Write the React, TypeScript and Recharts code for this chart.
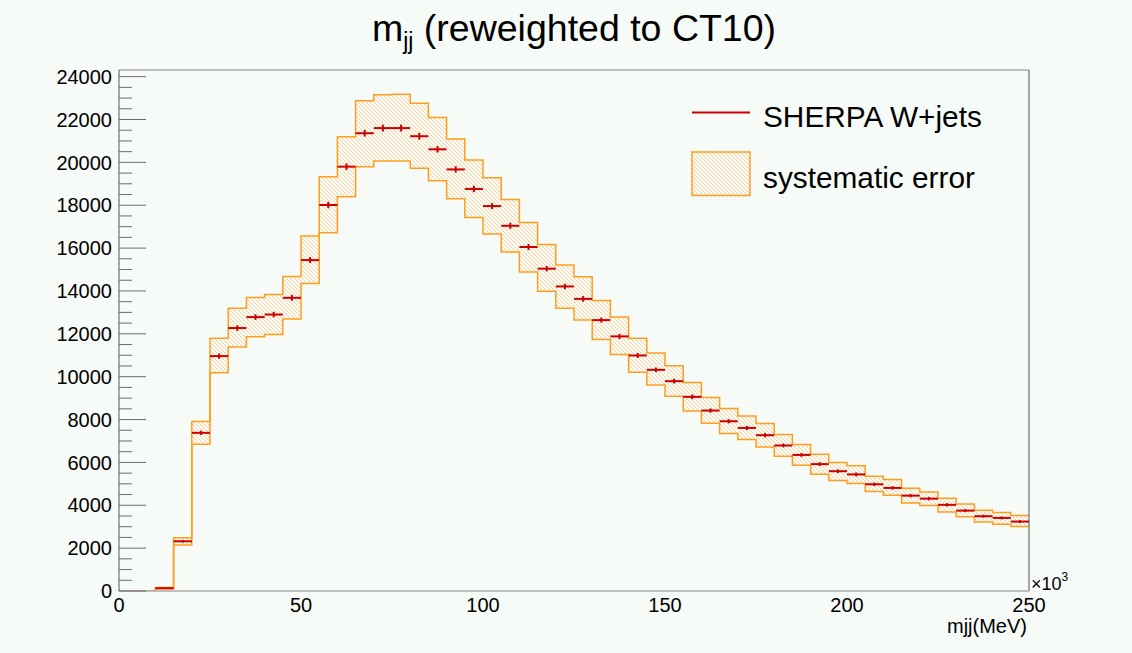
import { Area, ComposedChart, ErrorBar, ReferenceLine, Scatter, XAxis, YAxis } from "recharts";

const BG = "#f6fbf8";
const ORANGE = "#ff9d1e";
const RED = "#cc0000";
const FONT = '"Liberation Sans", Arial, Helvetica, sans-serif';

const W = 1132;
const H = 653;
const BIN_WIDTH = 5; // x10^3 MeV
const X_MAX = 250;
const Y_MAX = 24310;

// SHERPA W+jets event counts per 5 GeV bin of mjj
const counts = [
  0, 0, 130, 2320, 7380, 10960, 12270, 12780, 12900, 13680,
  15440, 18010, 19800, 21360, 21600, 21600, 21220, 20610, 19670, 18760,
  17960, 17040, 16050, 15040, 14210, 13630, 12640, 11880, 10990, 10320,
  9790, 9060, 8420, 7920, 7610, 7270, 6790, 6350, 5920, 5590,
  5440, 4980, 4810, 4450, 4310, 4020, 3750, 3490, 3410, 3240,
];

// systematic envelope (upper / lower edge)
const sysUp = [
  0, 0, 160, 2480, 7910, 11790, 13190, 13700, 13840, 14680,
  16560, 19330, 21200, 22880, 23160, 23180, 22760, 22090, 21090, 20110,
  19280, 18270, 17200, 16170, 15210, 14660, 13560, 12780, 11790, 11110,
  10510, 9730, 9030, 8520, 8170, 7820, 7300, 6840, 6380, 6000,
  5840, 5360, 5200, 4800, 4620, 4330, 4060, 3770, 3660, 3520,
];
const sysDown = [
  0, 0, 100, 2150, 6850, 10180, 11390, 11860, 11970, 12690,
  14350, 16720, 18400, 19800, 20060, 20060, 19720, 19140, 18300, 17430,
  16660, 15820, 14880, 13990, 13190, 12640, 11740, 11040, 10210, 9610,
  9090, 8400, 7830, 7350, 7070, 6720, 6290, 5870, 5450, 5160,
  5020, 4640, 4470, 4110, 3990, 3690, 3460, 3220, 3110, 3010,
];

// statistical error per bin
const statErr = [
  0, 0, 20, 60, 100, 120, 130, 130, 130, 140,
  140, 150, 150, 160, 160, 160, 160, 150, 150, 150,
  140, 140, 140, 130, 130, 130, 120, 120, 120, 110,
  110, 110, 100, 100, 100, 100, 90, 90, 90, 90,
  90, 80, 80, 80, 80, 80, 70, 70, 70, 70,
];

const xTicks = [0, 50, 100, 150, 200, 250];
const Y_MINOR_STEP = 500;
const Y_MAJOR_STEP = 2000;
const yTicks: number[] = [];
for (let v = 0; v <= 24000; v += Y_MINOR_STEP) yTicks.push(v);

const last = counts.length - 1;
const bandRows = [
  ...counts.map((_, i) => ({ x: i * BIN_WIDTH, band: [sysDown[i], sysUp[i]] })),
  { x: X_MAX, band: [sysDown[last], sysUp[last]] },
];
const pointRows = counts
  .map((v, i) => ({ x: i * BIN_WIDTH + BIN_WIDTH / 2, y: v, xErr: BIN_WIDTH / 2, yErr: statErr[i] }))
  .filter((r) => r.y > 0);

function YTick(props: any) {
  const { x, y, payload } = props;
  const major = payload.value % Y_MAJOR_STEP === 0;
  return (
    <g>
      <line x1={x} x2={x + (major ? 27 : 13)} y1={y} y2={y} stroke="#6b6b6b" strokeWidth={1} />
      {major && (
        <text x={x - 7} y={y} dy="0.36em" textAnchor="end" fontSize={20} fill="#000" fontFamily={FONT}>
          {payload.value}
        </text>
      )}
    </g>
  );
}

function Hatch() {
  return (
    <svg width={0} height={0} style={{ position: "absolute" }}>
      <defs>
        <pattern id="hatch" patternUnits="userSpaceOnUse" width={4} height={4}>
          <path d="M-1,-1 L5,5 M-1,3 L1,5 M3,-1 L5,1" stroke={ORANGE} strokeWidth={0.8} strokeOpacity={0.55} />
        </pattern>
      </defs>
    </svg>
  );
}

export default function App() {
  return (
    <div style={{ position: "absolute", left: 0, top: 0, width: W, height: H, background: BG, fontFamily: FONT }}>
      <Hatch />
      <ComposedChart width={W} height={H} data={bandRows} margin={{ top: 70, right: 103, bottom: 0, left: 0 }}>
        <XAxis
          dataKey="x"
          type="number"
          domain={[0, X_MAX]}
          ticks={xTicks}
          allowDataOverflow
          height={62}
          tickLine={false}
          tickSize={0}
          tickMargin={7}
          axisLine={{ stroke: "#a8a8a8", strokeWidth: 1.5 }}
          tick={{ fontSize: 20, fill: "#000", fontFamily: FONT }}
        />
        <YAxis
          type="number"
          domain={[0, Y_MAX]}
          ticks={yTicks}
          interval={0}
          allowDataOverflow
          width={119}
          tickLine={false}
          tickSize={0}
          tickMargin={0}
          axisLine={{ stroke: "#555" }}
          tick={<YTick />}
        />
        <Area
          type="stepAfter"
          dataKey="band"
          stroke={ORANGE}
          strokeWidth={1.5}
          fill="url(#hatch)"
          fillOpacity={1}
          dot={false}
          activeDot={false}
          isAnimationActive={false}
        />
        <Scatter data={pointRows} dataKey="y" shape={() => <g />} isAnimationActive={false}>
          <ErrorBar dataKey="xErr" direction="x" width={0} stroke={RED} strokeWidth={2} isAnimationActive={false} />
          <ErrorBar dataKey="yErr" direction="y" width={0} stroke={RED} strokeWidth={2} isAnimationActive={false} />
        </Scatter>
        <ReferenceLine y={Y_MAX} stroke="#a8a8a8" strokeWidth={1.5} />
        <ReferenceLine x={X_MAX} stroke="#555" strokeWidth={1} />
      </ComposedChart>
      <svg width={W} height={H} style={{ position: "absolute", left: 0, top: 0, pointerEvents: "none" }}>
        <text x={574} y={41} textAnchor="middle" fontSize={37.5} fill="#000" fontFamily={FONT}>
          m<tspan fontSize={23} dy={8}>jj</tspan>
          <tspan dy={-8}> (reweighted to CT10)</tspan>
        </text>
        <line x1={692} x2={750} y1={112.5} y2={112.5} stroke={RED} strokeWidth={2} />
        <text x={763} y={126.5} fontSize={29.8} fill="#000" fontFamily={FONT}>SHERPA W+jets</text>
        <rect x={692} y={152} width={58} height={43.5} fill="url(#hatch)" stroke={ORANGE} strokeWidth={1.5} />
        <text x={763} y={188} fontSize={29.8} fill="#000" fontFamily={FONT}>systematic error</text>
        <text x={1031} y={590} fontSize={18} fill="#000" fontFamily={FONT}>
          ×10<tspan fontSize={12} dy={-9}>3</tspan>
        </text>
        <text x={1027} y={633} textAnchor="end" fontSize={20} fill="#000" fontFamily={FONT}>mjj(MeV)</text>
      </svg>
    </div>
  );
}
